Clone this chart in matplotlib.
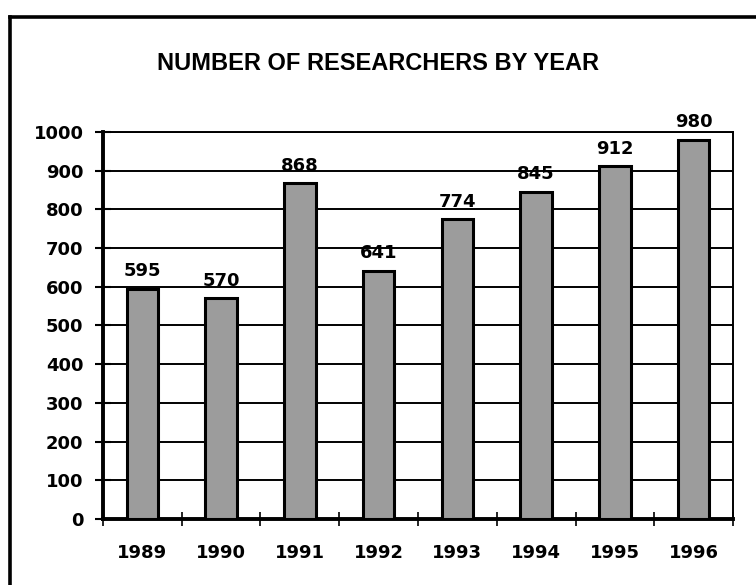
import matplotlib
matplotlib.use("Agg")
import matplotlib.pyplot as plt
from matplotlib.lines import Line2D

# data
years = ["1989", "1990", "1991", "1992", "1993", "1994", "1995", "1996"]
researchers = [595, 570, 868, 641, 774, 845, 912, 980]
yticks = [0, 100, 200, 300, 400, 500, 600, 700, 800, 900, 1000]

plt.rcParams["font.family"] = ["Liberation Sans", "DejaVu Sans"]
NUM_FONT = "DejaVu Sans"   # wider digits, closer to the letter-spaced originals

fig = plt.figure(figsize=(7.56, 5.85), dpi=100)
fig.patch.set_facecolor("white")

# outer frame (left and top edges of the scanned box)
fig.add_artist(Line2D([0.013, 0.013], [0.0, 0.971], transform=fig.transFigure,
                      color="black", lw=2.6))
fig.add_artist(Line2D([0.013, 1.0], [0.971, 0.971], transform=fig.transFigure,
                      color="black", lw=2.6))

fig.text(0.50, 0.892, "NUMBER OF RESEARCHERS BY YEAR", fontsize=17,
         family="Liberation Sans", weight="heavy", ha="center", va="center")

ax = fig.add_axes([0.1362, 0.1128, 0.8334, 0.6616])
x = range(len(years))
ax.bar(x, researchers, width=0.40, color="#9c9c9c", edgecolor="black",
       linewidth=2.2, zorder=3)

for xi, v in zip(x, researchers):
    ax.text(xi, v + 22, str(v), ha="center", va="bottom", fontsize=13,
            family=NUM_FONT, weight="bold", zorder=4)

ax.set_xlim(-0.5, len(years) - 0.5)
ax.set_ylim(0, 1000)
ax.set_yticks(yticks)
ax.set_yticklabels([str(t) for t in yticks], fontsize=13, family=NUM_FONT, weight="bold")
ax.set_xticks(list(x))
ax.set_xticklabels(years, fontsize=13, family=NUM_FONT, weight="bold")
ax.tick_params(axis="x", length=0, pad=18)
ax.set_xticks([i - 0.5 for i in range(len(years) + 1)], minor=True)
ax.tick_params(axis="x", which="minor", direction="inout", length=10, width=1.2)
ax.tick_params(axis="y", direction="inout", length=12, width=1.5, pad=8)

ax.grid(axis="y", color="black", lw=1.4, zorder=0)
for side in ("left", "bottom"):
    ax.spines[side].set_linewidth(2.8)
for side in ("top", "right"):
    ax.spines[side].set_linewidth(1.4)

fig.savefig("out.png", dpi=100, facecolor="white")
